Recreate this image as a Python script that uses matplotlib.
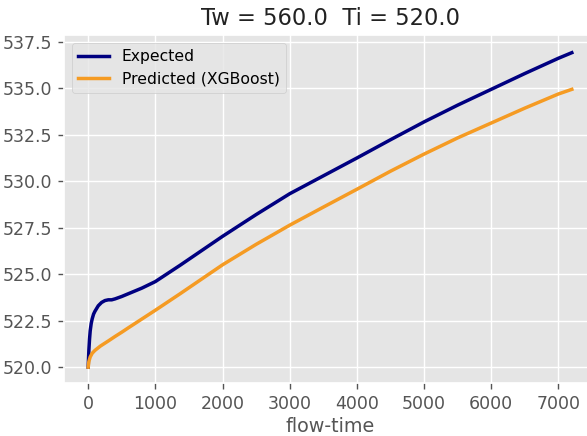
import matplotlib
matplotlib.use("Agg")
import matplotlib.pyplot as plt

# values
t_exp = [0, 10, 20, 30, 45, 60, 80, 100, 150, 200, 250, 300, 350, 400, 500, 600, 800,
         1000, 1370, 1500, 2000, 2500, 3000, 3500, 4000, 4500, 5000, 5500, 6000, 6500,
         7000, 7200]
expected = [520.0, 520.9, 521.5, 521.95, 522.35, 522.6, 522.85, 523.0, 523.3, 523.48,
            523.58, 523.62, 523.62, 523.67, 523.8, 523.95, 524.25,
            524.6, 525.48, 525.8, 527.03, 528.2, 529.32, 530.28, 531.24, 532.22,
            533.18, 534.08, 534.93, 535.78, 536.6, 536.9]

t_pred = [0, 10, 30, 60, 100, 180, 300, 400, 500, 600, 800, 1000, 1370, 1500, 2000,
          2500, 3000, 3500, 4000, 4500, 5000, 5500, 6000, 6500, 7000, 7200]
predicted = [520.0, 520.3, 520.55, 520.75, 520.9, 521.13, 521.41, 521.65, 521.88,
             522.12, 522.59, 523.06, 523.95, 524.27, 525.5, 526.6, 527.63, 528.6,
             529.56, 530.53, 531.45, 532.32, 533.12, 533.92, 534.68, 534.93]

Tw = 560.0
Ti = 520.0

plt.style.use("ggplot")

fig = plt.figure(figsize=(587 / 125, 436 / 125), dpi=125)
# axes runs a little past the right edge, as in the (cropped) reference
ax = fig.add_axes([64 / 587, 53 / 436, 532 / 587, 348 / 436])

ax.plot(t_exp, expected, color="navy", lw=2, label="Expected")
ax.plot(t_pred, predicted, color="#f59b23", lw=2, label="Predicted (XGBoost)")

ax.set_xlim(-360, 7560)
ax.set_ylim(519.15, 537.85)
ax.set_xticks([0, 1000, 2000, 3000, 4000, 5000, 6000, 7000])
ax.set_yticks([520.0, 522.5, 525.0, 527.5, 530.0, 532.5, 535.0, 537.5])
ax.tick_params(labelsize=10)

ax.set_title(f"Tw = {Tw}  Ti = {Ti}", fontsize=13, color="#222222")
ax.set_xlabel("flow-time", fontsize=11, labelpad=2)
ax.legend(loc="upper left", fontsize=9)

fig.savefig("out.png", dpi=125)
